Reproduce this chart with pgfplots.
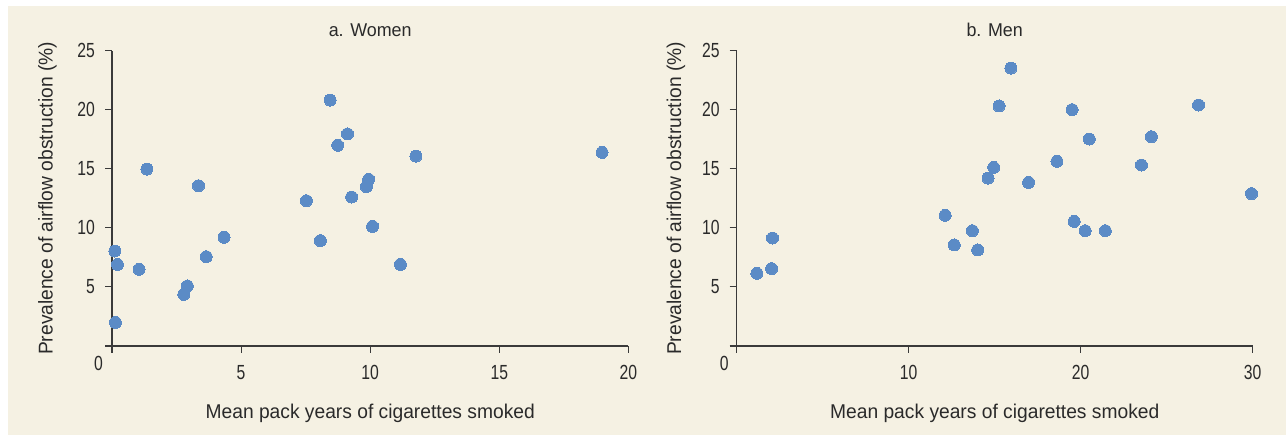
\documentclass[border=0pt]{standalone}
\usepackage{pgfplots}
\pgfplotsset{compat=1.18}
\usepackage{fontspec}
\setmainfont{Liberation Sans}
\newfontfamily\labfont{Liberation Sans}[FakeStretch=0.965]
\newfontfamily\tickfont{Liberation Sans}[FakeStretch=0.77]
\definecolor{cream}{HTML}{F5F1E3}
\definecolor{dot}{HTML}{5B8BC6}
\definecolor{ink}{HTML}{2A2A2A}
\definecolor{axisink}{HTML}{3A3A3A}
\pgfplotsset{panel/.style={
  scale only axis, anchor=south west, clip=false,
  height=295.3bp, ymin=0, ymax=25,
  axis lines=left, axis line style={-, axisink, line width=1.1bp},
  tick align=outside, major tick length=7bp,
  tick style={axisink, line width=1.1bp},
  ytick={0,5,10,15,20,25}, yticklabels={,5,10,15,20,25},
  ticklabel style={font=\tickfont\fontsize{20.5}{21}\selectfont, text=ink, inner sep=0pt},
  yticklabel style={anchor=east, xshift=-10bp},
  xticklabel style={anchor=north, yshift=-12bp},
}}
\begin{document}
\begin{tikzpicture}[x=1bp,y=1bp]
\fill[white] (0,0) rectangle (1286,435);
\fill[cream] (8,0) rectangle (1286,429);
\begin{axis}[panel, at={(112bp,89bp)}, width=516.4bp, xmin=0, xmax=20,
  xtick={0,5,10,15,20}, xticklabels={,5,10,15,20}]
\addplot[only marks, mark=*, color=dot, mark size=6bp, mark options={draw=dot, fill=dot, line width=0pt}] table {
x y
0.11 8.04
0.21 6.91
0.13 2.0
1.05 6.49
1.35 14.98
2.78 4.37
2.92 5.08
3.35 13.57
3.65 7.56
4.34 9.20
7.53 12.30
8.07 8.92
8.45 20.82
8.74 16.99
9.12 17.95
9.28 12.61
9.85 13.49
9.94 14.11
10.09 10.13
11.17 6.91
11.77 16.08
18.98 16.39
};
\node[font=\tickfont\fontsize{20.5}{21}\selectfont, text=ink, inner sep=0pt, xshift=-13.5bp, yshift=-17bp] at (axis cs:0,0) {0};
\node[font=\labfont\fontsize{18.6}{20}\selectfont, text=ink, anchor=base, yshift=14bp] at (rel axis cs:0.5,1) {a. Women};
\node[font=\labfont\fontsize{20}{22}\selectfont, text=ink, anchor=base, yshift=-73bp] at (rel axis cs:0.5,0) {Mean pack years of cigarettes smoked};
\node[font=\labfont\fontsize{20}{22}\selectfont, text=ink, xshift=-59.5bp, rotate=90, anchor=base] at (rel axis cs:0,0.5) {Prevalence of airflow obstruction (\%)};
\end{axis}
\begin{axis}[panel, at={(736.7bp,89bp)}, width=516bp, xmin=0, xmax=30,
  xtick={0,10,20,30}, xticklabels={,10,20,30}]
\addplot[only marks, mark=*, color=dot, mark size=6bp, mark options={draw=dot, fill=dot, line width=0pt}] table {
x y
1.17 6.15
2.03 6.55
2.08 9.14
12.12 11.06
12.65 8.55
13.70 9.76
14.01 8.13
14.61 14.22
14.94 15.12
15.25 20.32
15.94 23.53
16.97 13.85
18.62 15.63
19.50 20.01
19.62 10.55
20.26 9.76
20.50 17.52
21.43 9.76
23.53 15.32
24.11 17.72
26.85 20.40
29.93 12.90
};
\node[font=\tickfont\fontsize{20.5}{21}\selectfont, text=ink, inner sep=0pt, xshift=-12.5bp, yshift=-17bp] at (axis cs:0,0) {0};
\node[font=\labfont\fontsize{18.6}{20}\selectfont, text=ink, anchor=base, yshift=14bp] at (rel axis cs:0.5,1) {b. Men};
\node[font=\labfont\fontsize{20}{22}\selectfont, text=ink, anchor=base, yshift=-73bp] at (rel axis cs:0.5,0) {Mean pack years of cigarettes smoked};
\node[font=\labfont\fontsize{20}{22}\selectfont, text=ink, xshift=-55.5bp, rotate=90, anchor=base] at (rel axis cs:0,0.5) {Prevalence of airflow obstruction (\%)};
\end{axis}
\end{tikzpicture}
\end{document}
